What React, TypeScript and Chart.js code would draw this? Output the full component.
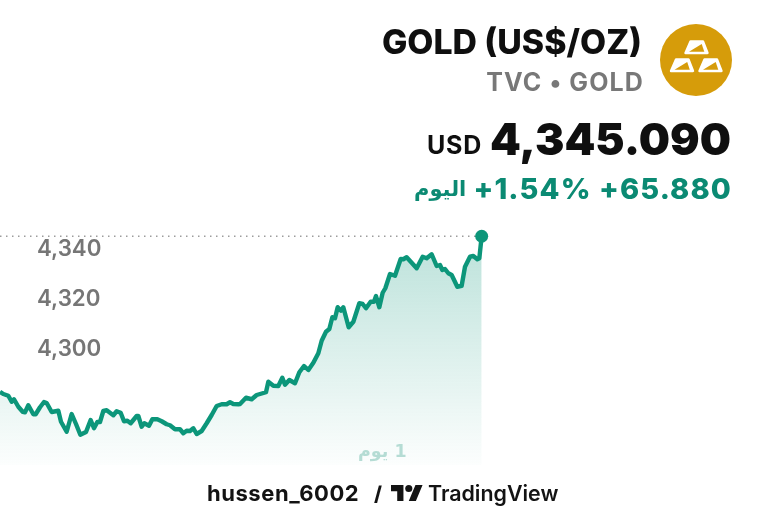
import React, { useEffect, useRef } from "react";
import { Chart, registerables } from "chart.js";

Chart.register(...registerables);

const minutes = [0,10,25,35,42,55,68,75,85,100,107,120,132,140,155,175,183,200,215,228,241,258,272,282,292,300,310,320,340,350,362,372,382,392,410,415,425,433,447,457,472,485,500,510,525,540,550,560,570,580,590,605,620,635,650,665,680,690,700,715,720,738,755,770,798,805,820,835,847,855,868,885,898,912,925,940,955,965,978,988,997,1005,1013,1023,1030,1046,1060,1078,1088,1098,1112,1122,1128,1138,1148,1156,1170,1185,1202,1210,1220,1235,1250,1268,1280,1295,1310,1320,1327,1335,1345,1355,1372,1385,1395,1410,1420,1432,1438,1445];
const prices = [4282.9,4282.0,4281.3,4278.9,4279.9,4276.9,4274.9,4274.7,4277.5,4273.9,4273.9,4276.7,4278.8,4278.4,4274.8,4275.3,4270.9,4266.9,4274.0,4270.0,4265.7,4266.8,4271.6,4268.3,4270.8,4270.8,4275.2,4275.5,4273.5,4275.1,4274.5,4271.1,4271.3,4270.3,4273.2,4273.2,4268.9,4270.3,4269.3,4271.9,4271.9,4271.1,4269.9,4269.5,4267.9,4267.9,4266.3,4267.3,4267.2,4268.3,4266.0,4267.2,4270.3,4273.6,4277.2,4277.9,4277.9,4278.7,4278.0,4277.9,4278.0,4280.5,4279.9,4281.6,4282.7,4286.9,4285.3,4285.2,4288.5,4285.7,4287.6,4286.3,4290.7,4293.2,4291.6,4294.5,4298.3,4303.3,4306.9,4308.0,4312.7,4312.3,4316.7,4315.3,4316.7,4308.7,4310.9,4318.3,4318.0,4316.3,4318.9,4318.9,4321.2,4316.7,4322.5,4324.3,4330.0,4329.3,4336.0,4335.9,4336.7,4334.5,4332.3,4336.9,4336.3,4337.9,4333.2,4333.6,4331.6,4332.0,4330.3,4329.6,4324.9,4325.3,4332.9,4336.9,4337.2,4335.9,4336.3,4345.09];
const yTicks = [4300, 4320, 4340];
const lastPrice = 4345.09;
const fillBase = 4253.6;
const title = "GOLD (US$/OZ)";
const subtitle = "TVC • GOLD";
const currency = "USD";
const priceText = "4,345.090";
const changeText = "+1.54% +65.880";
const periodWord = "اليوم";
const axisLabel = "1 يوم";
const author = "hussen_6002";
const brand = "TradingView";

const GREEN = "#0c967a";
const GOLD = "#d69c0a";
const FONT = "Inter, 'Noto Sans', sans-serif";

const abs = (s: React.CSSProperties): React.CSSProperties => ({
  position: "absolute",
  whiteSpace: "nowrap",
  fontFamily: FONT,
  ...s,
});

function GoldIcon() {
  const bar = (dx: number, dy: number) => (
    <g transform={`translate(${dx} ${dy})`} key={`${dx}-${dy}`}>
      <path d="M6 1H18.5L23 12.5H1Z" fill="#fff" stroke="#fff" strokeWidth="2.4" strokeLinejoin="round" />
      <path d="M4.5 11.2L17.2 3.6L19.8 11.2Z" fill={GOLD} />
    </g>
  );
  return (
    <svg width="72" height="72" viewBox="0 0 72 72" style={{ position: "absolute", left: 660, top: 24 }}>
      <circle cx="36" cy="36" r="36" fill={GOLD} />
      {bar(24.5, 16.5)}
      {bar(10, 34.5)}
      {bar(38.5, 34.5)}
    </svg>
  );
}

export default function App() {
  const ref = useRef<HTMLCanvasElement>(null);
  useEffect(() => {
    if (!ref.current) return;
    const ctx = ref.current.getContext("2d")!;
    const area = ctx.createLinearGradient(0, 236, 0, 465);
    area.addColorStop(0, "rgba(12,150,122,0.28)");
    area.addColorStop(1, "rgba(12,150,122,0.01)");
    const line = minutes.map((x, i) => ({ x, y: prices[i] }));
    const chart = new Chart(ctx, {
      type: "line",
      data: {
        datasets: [
          {
            data: line,
            borderColor: GREEN,
            borderWidth: 4.4,
            backgroundColor: area,
            fill: { value: fillBase },
            tension: 0,
            borderJoinStyle: "round",
            pointRadius: (c: any) => (c.dataIndex === minutes.length - 1 ? 6.5 : 0),
            pointBackgroundColor: GREEN,
            pointBorderWidth: 0,
          },
          {
            data: [
              { x: 0, y: lastPrice },
              { x: minutes[minutes.length - 1], y: lastPrice },
            ],
            borderColor: "#9c9c9c",
            borderWidth: 1.5,
            borderDash: [1.5, 4.5],
            pointRadius: 0,
            fill: false,
          },
        ],
      },
      options: {
        animation: false,
        responsive: false,
        maintainAspectRatio: false,
        layout: { padding: 0, autoPadding: false },
        plugins: { legend: { display: false }, tooltip: { enabled: false } },
        scales: {
          x: { type: "linear", display: false, min: 0, max: 2292 },
          y: {
            type: "linear",
            min: 4233.2,
            max: 4439.6,
            afterBuildTicks: (axis: any) => {
              axis.ticks = yTicks.map((value) => ({ value }));
            },
            afterFit: (axis: any) => {
              axis.width = 0;
              axis.paddingTop = 0;
              axis.paddingBottom = 0;
            },
            border: { display: false },
            grid: { display: false },
            ticks: {
              mirror: true,
              padding: 37,
              color: "#767676",
              font: { family: "Inter", size: 22.3, weight: 600 },
              callback: (v: any) => Number(v).toLocaleString("en-US"),
            },
          },
        },
      },
    } as any);
    return () => chart.destroy();
  }, []);

  return (
    <div style={{ position: "absolute", left: 0, top: 0, width: 764, height: 516, overflow: "hidden", background: "#fff" }}>
      <canvas ref={ref} width={764} height={516} style={{ display: "block", position: "absolute", left: 0, top: 0 }} />
      <div style={abs({ right: 122, top: 21, fontSize: 33.8, fontWeight: 800, color: "#0f0f0f", lineHeight: "42px" })}>{title}</div>
      <div style={abs({ right: 120, top: 66, fontSize: 25, fontWeight: 700, color: "#787878", lineHeight: "32px", letterSpacing: 1.1 })}>{subtitle}</div>
      <GoldIcon />
      <div style={abs({ right: 282, top: 129, fontSize: 25, fontWeight: 700, color: "#0f0f0f", lineHeight: "32px", letterSpacing: 0.8 })}>{currency}</div>
      <div style={abs({ right: 33, top: 112, fontSize: 44, fontWeight: 900, color: "#0f0f0f", lineHeight: "54px" })}>{priceText}</div>
      <div style={abs({ right: 32, top: 172, fontSize: 29, fontWeight: 800, color: "#0b8a73", lineHeight: "34px", letterSpacing: 1.1 })}>{changeText}</div>
      <div style={abs({ left: 414, top: 172, fontSize: 21, fontWeight: 700, color: "#0b8a73", lineHeight: "34px", fontFamily: "'DejaVu Sans', sans-serif" })} dir="rtl">{periodWord}</div>
      <div style={abs({ left: 358, top: 438, fontSize: 17.5, fontWeight: 700, color: "#b5dcd4", lineHeight: "26px", fontFamily: "'DejaVu Sans', sans-serif" })} dir="rtl">{axisLabel}</div>
      <div style={abs({ left: 207, top: 479, fontSize: 22, fontWeight: 700, color: "#131313", lineHeight: "28px", letterSpacing: 0.55 })}>{author}</div>
      <div style={abs({ left: 374, top: 481, fontSize: 20, fontWeight: 800, color: "#131313", lineHeight: "26px" })}>/</div>
      <svg width="32" height="16" viewBox="0 0 36 18" style={{ position: "absolute", left: 391, top: 485 }}>
        <path d="M14 18H7V7H0V0h14v18zM28 18h-8L27.5 0h8L28 18z" fill="#131313" />
        <circle cx="20" cy="4" r="4" fill="#131313" />
      </svg>
      <div style={abs({ left: 428, top: 479, fontSize: 21.4, fontWeight: 600, color: "#131313", lineHeight: "28px" })}>{brand}</div>
    </div>
  );
}
